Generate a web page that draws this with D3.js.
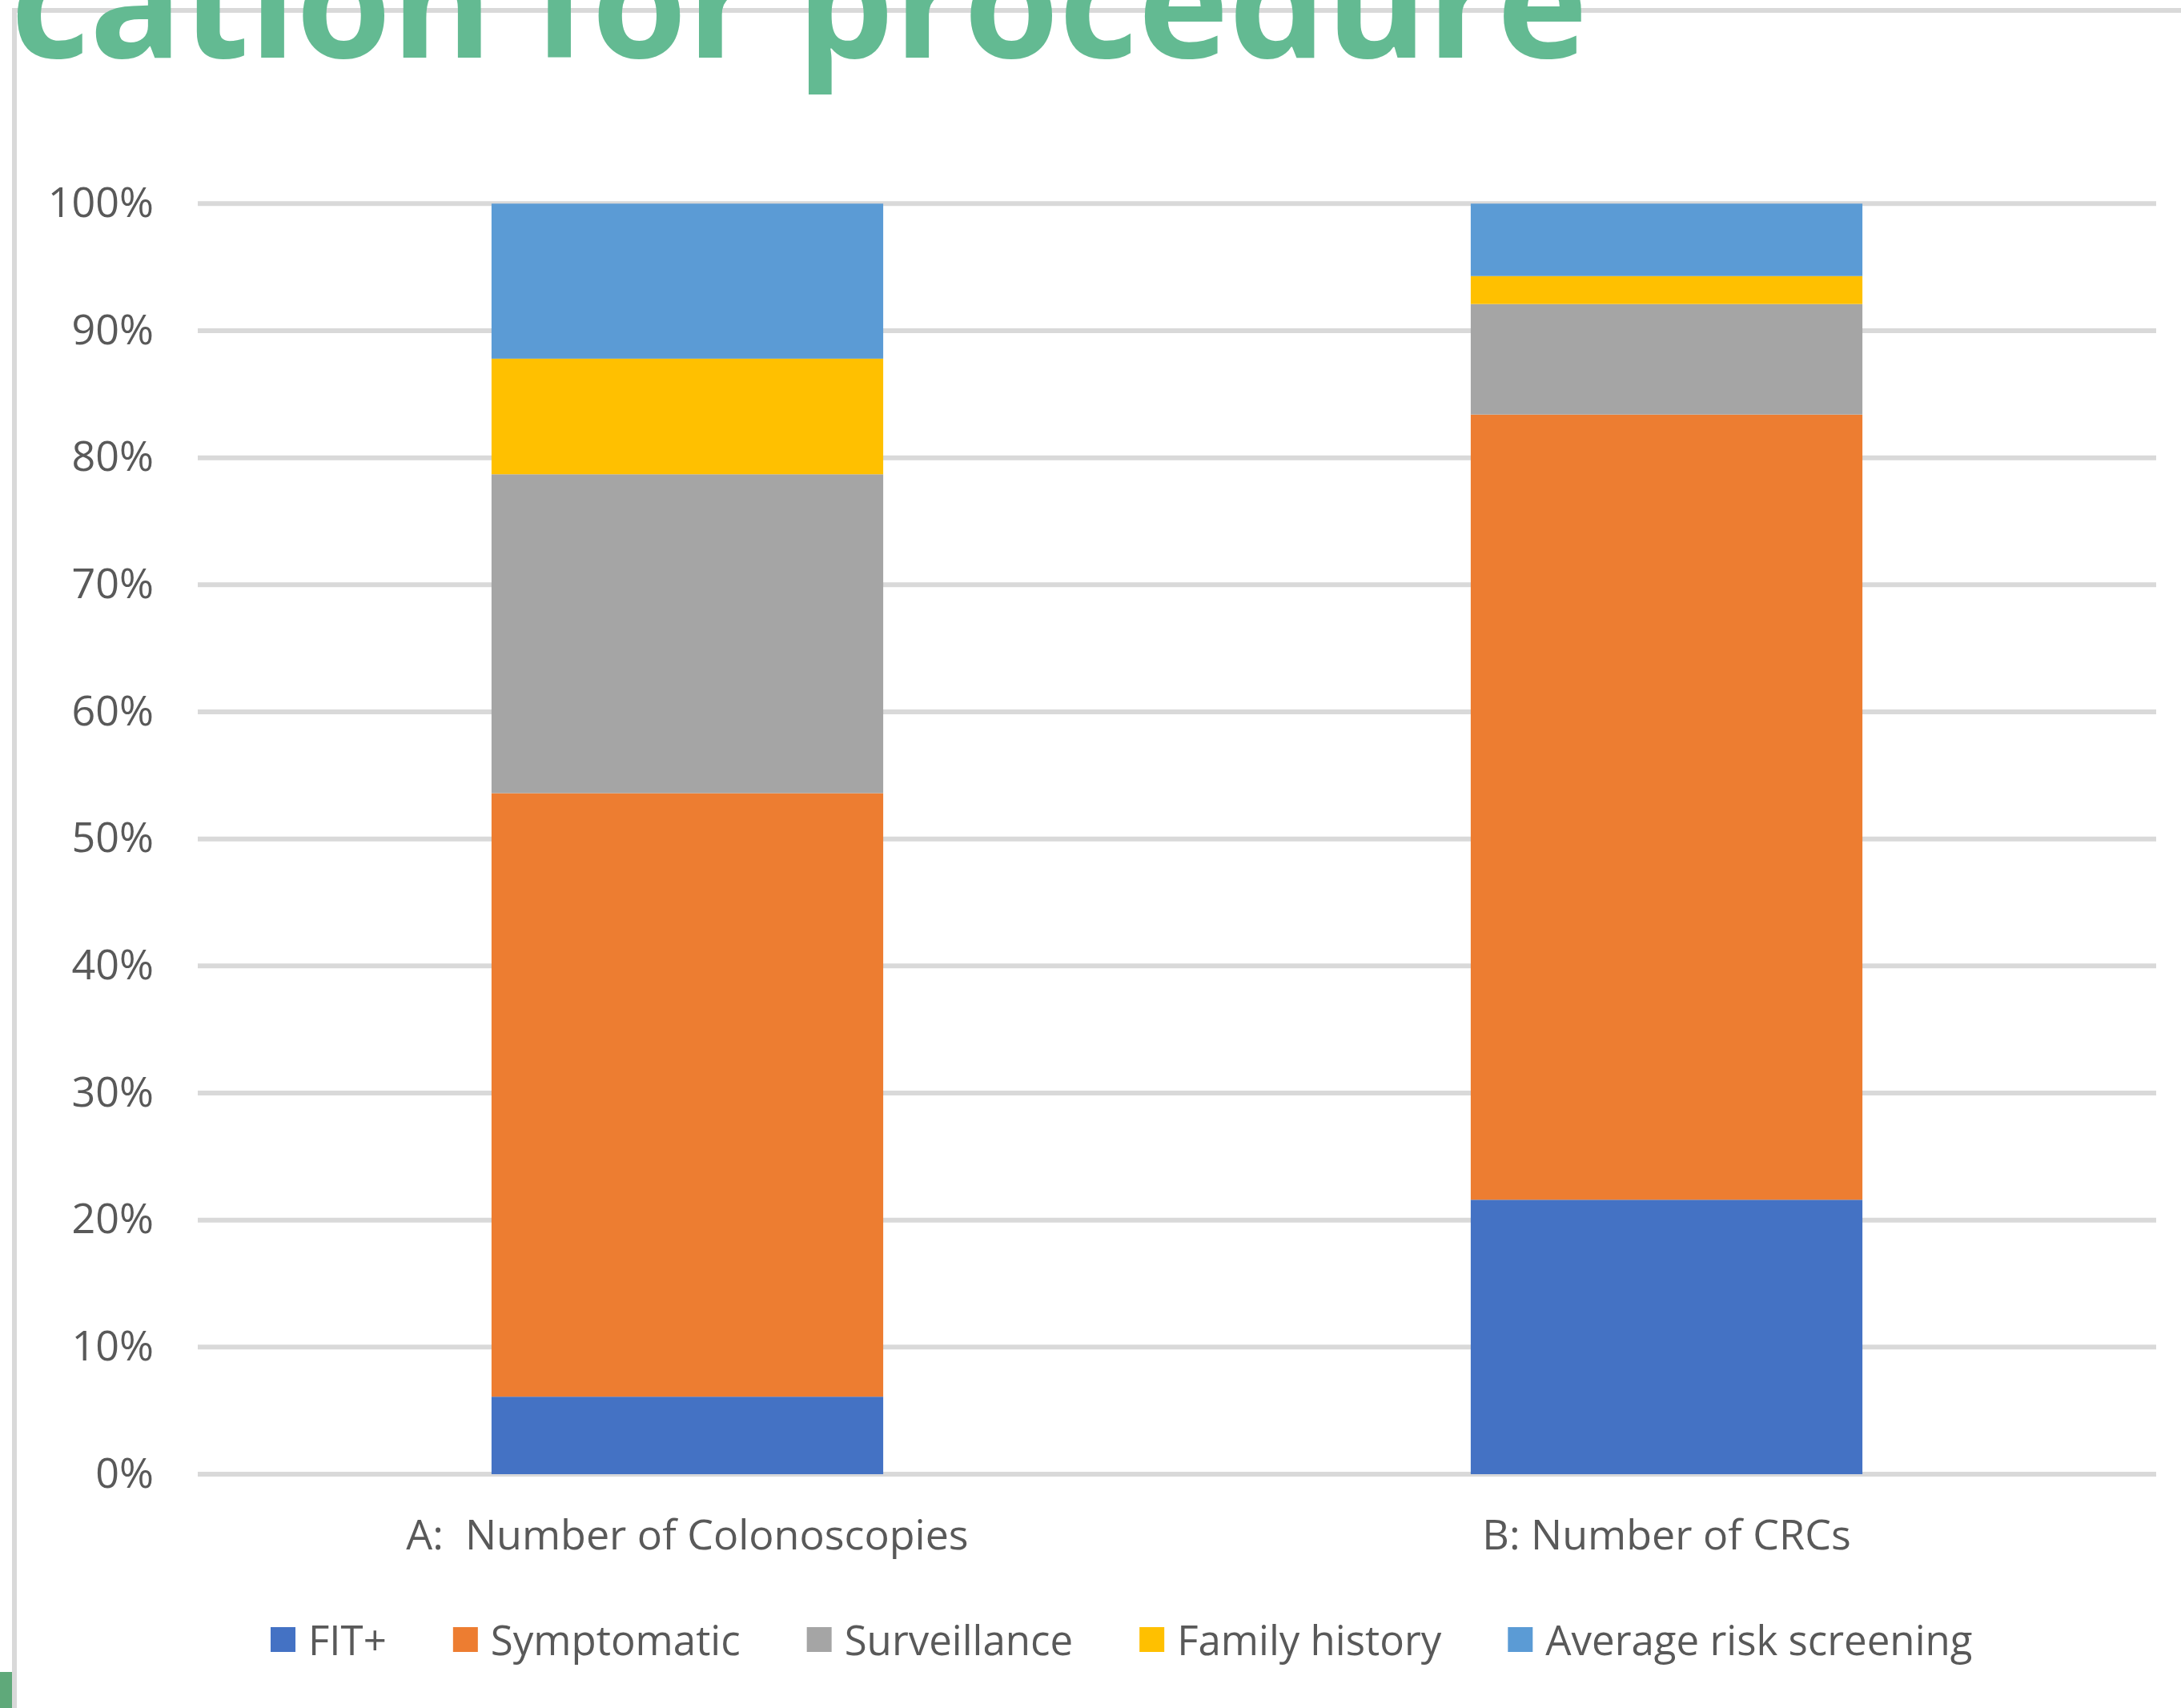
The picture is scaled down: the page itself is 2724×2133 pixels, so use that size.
<!DOCTYPE html>
<html>
<head>
<meta charset="utf-8">
<script src="https://cdn.jsdelivr.net/npm/d3@7"></script>
<style>
  html, body { margin: 0; padding: 0; background: #fff; overflow: hidden; }
  svg { display: block; }
  text { font-family: "Open Sans", "Noto Sans", sans-serif; }
</style>
</head>
<body>
<svg id="chart" width="2724" height="2133"></svg>
<script>
// ---- data ----
const titleText = "Indication for procedure";
const categories = ["A:  Number of Colonoscopies", "B: Number of CRCs"];
const seriesNames = ["FIT+", "Symptomatic", "Surveillance", "Family history", "Average risk screening"];
const seriesColors = ["#4472C4", "#ED7D31", "#A5A5A5", "#FFC000", "#5B9BD5"];
const fitPlus      = [6.1, 21.6];
const symptomatic  = [47.5, 61.8];
const surveillance = [25.1, 8.7];
const familyHist   = [9.1, 2.2];
const avgRisk      = [12.2, 5.7];
const yTickValues  = [0, 0.1, 0.2, 0.3, 0.4, 0.5, 0.6, 0.7, 0.8, 0.9, 1.0];

// ---- build table ----
const seriesValues = [fitPlus, symptomatic, surveillance, familyHist, avgRisk];
const table = categories.map((c, i) => {
  const row = { cat: c };
  seriesNames.forEach((s, j) => row[s] = seriesValues[j][i] / 100);
  return row;
});
const stacked = d3.stack().keys(seriesNames)(table);

const svg = d3.select("#chart");
const grid = "#D9D9D9";
const textColor = "#595959";
const fontSize = 52;

// slide frame lines
svg.append("line").attr("x1", 18).attr("x2", 2724).attr("y1", 13).attr("y2", 13)
  .attr("stroke", grid).attr("stroke-width", 6);
svg.append("line").attr("x1", 18).attr("x2", 18).attr("y1", 10).attr("y2", 2133)
  .attr("stroke", grid).attr("stroke-width", 6);
svg.append("rect").attr("x", 0).attr("y", 2088).attr("width", 15).attr("height", 45)
  .attr("fill", "#5FA97A");

// scales
const plotLeft = 247, plotRight = 2693;
const y = d3.scaleLinear().domain([0, 1]).range([1841, 254.3]);
const x = d3.scaleBand().domain(categories).range([plotLeft, plotRight])
  .paddingInner(0.6).paddingOuter(0.3);
const color = d3.scaleOrdinal().domain(seriesNames).range(seriesColors);

// gridlines
svg.append("g").selectAll("line").data(yTickValues).join("line")
  .attr("x1", plotLeft).attr("x2", plotRight)
  .attr("y1", d => y(d)).attr("y2", d => y(d))
  .attr("stroke", grid).attr("stroke-width", 6);

// bars
svg.append("g").selectAll("g").data(stacked).join("g")
  .attr("fill", d => color(d.key))
  .selectAll("rect").data(d => d).join("rect")
  .attr("x", d => x(d.data.cat))
  .attr("width", x.bandwidth())
  .attr("y", d => y(d[1]))
  .attr("height", d => y(d[0]) - y(d[1]));

// y axis labels
const yAxis = svg.append("g").attr("transform", "translate(192,0)")
  .call(d3.axisLeft(y).tickValues(yTickValues).tickFormat(d3.format(".0%")).tickSize(0).tickPadding(0));
yAxis.select(".domain").remove();
yAxis.selectAll("text").attr("font-size", fontSize).attr("fill", textColor)
  .attr("font-family", "'Open Sans', sans-serif").attr("dy", "0.31em");

// x axis labels
const xAxis = svg.append("g").attr("transform", `translate(0,${y(0)})`)
  .call(d3.axisBottom(x).tickSize(0).tickPadding(57));
xAxis.select(".domain").remove();
xAxis.selectAll("text").attr("font-size", fontSize).attr("fill", textColor)
  .attr("font-family", "'Open Sans', sans-serif")
  .style("white-space", "pre").attr("xml:space", "preserve");

// legend
const legend = svg.append("g");
let lx = 338;
seriesNames.forEach((name, i) => {
  legend.append("rect").attr("x", lx).attr("y", 2032).attr("width", 31).attr("height", 31)
    .attr("fill", color(name));
  const t = legend.append("text").attr("x", lx + 47).attr("y", 2067)
    .attr("font-size", 51).attr("fill", textColor).text(name);
  lx += 47 + t.node().getComputedTextLength() + 83;
});

// title (clipped at top of the slide)
svg.append("text").attr("x", 1983).attr("y", 72).attr("text-anchor", "end")
  .attr("font-size", 192).attr("font-weight", 700).attr("fill", "#63BA92")
  .text(titleText);
</script>
</body>
</html>
